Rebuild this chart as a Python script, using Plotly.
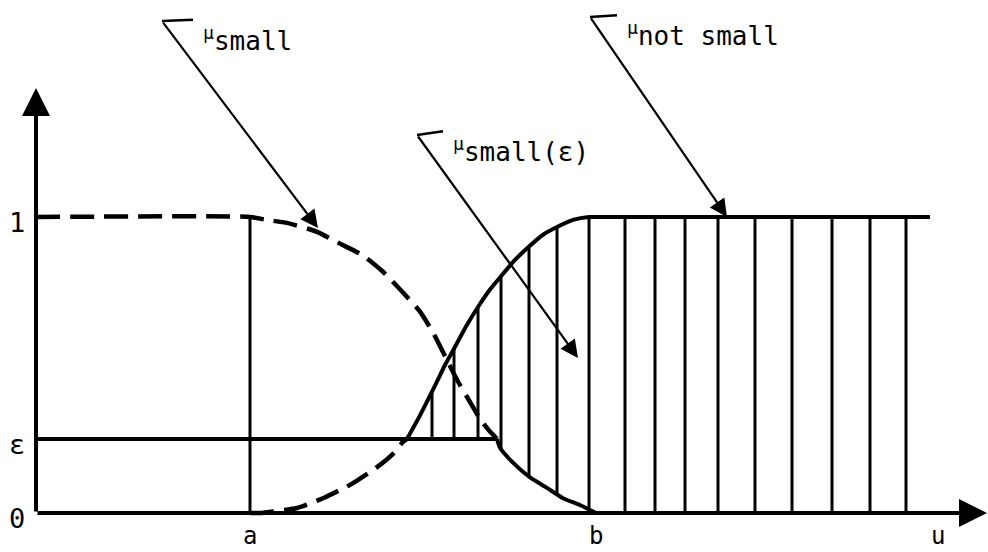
import numpy as np
import plotly.graph_objects as go

# Threshold level and characteristic points on the universe of discourse
EPS = 0.25
A = 2.14
B = 5.6

# Membership function "small" (decreasing)
u_small = [0.0, 2.14, 2.31, 2.51, 2.81, 3.04, 3.27, 3.47, 3.67, 3.84, 3.97, 4.09,
           4.21, 4.34, 4.44, 4.54, 4.61, 4.64, 4.77, 4.94, 5.11, 5.27, 5.44, 5.57, 5.6]
mu_small = [1.0, 1.0, 0.99, 0.98, 0.95, 0.91, 0.87, 0.815, 0.745, 0.68, 0.61, 0.53,
            0.45, 0.375, 0.318, 0.275, 0.25, 0.22, 0.17, 0.12, 0.085, 0.05, 0.027, 0.005, 0.0]

# Membership function "not small" (increasing)
u_not = [2.14, 2.24, 2.61, 2.87, 3.14, 3.41, 3.57, 3.67, 3.71, 3.84, 3.96, 4.04, 4.09,
         4.18, 4.30, 4.42, 4.54, 4.65, 4.79, 4.93, 5.07, 5.21, 5.37, 5.53, 5.61, 8.94]
mu_not = [0.0, 0.0, 0.017, 0.05, 0.095, 0.155, 0.20, 0.24, 0.25, 0.33, 0.41, 0.465, 0.50,
          0.555, 0.63, 0.696, 0.755, 0.80, 0.855, 0.90, 0.94, 0.966, 0.99, 1.0, 1.0, 1.0]

# Positions of the vertical hatch lines of the shaded set
hatch_u = [3.96, 4.18, 4.42, 4.65, 4.93, 5.21, 5.53, 5.89, 6.19, 6.49,
           6.82, 7.19, 7.56, 7.96, 8.34, 8.70]

# Axis labels
y_tick_vals = [1.0, EPS, 0.0]
y_tick_text = ["1", "ε", "0"]
x_tick_vals = [A, B, 9.02]
x_tick_text = ["a", "b", "u"]

FONT = "DejaVu Sans Mono"
INK = "black"

us = np.array(u_small)
ms = np.array(mu_small)
un = np.array(u_not)
mn = np.array(mu_not)

# where "small" falls to eps
u_cross_small = float(np.interp(EPS, ms[::-1], us[::-1]))

fig = go.Figure()

dash = "24px,10px"


def curve(x, y, width, dashed):
    return go.Scatter(x=x, y=y, mode="lines",
                      line=dict(color=INK, width=width, dash=dash if dashed else "solid",
                                shape="spline", smoothing=0.5))


# "small": dashed above eps, solid below
hi = ms >= EPS
fig.add_trace(curve(us[hi], ms[hi], 4.5, True))
lo = ms <= EPS
fig.add_trace(curve(us[lo], ms[lo], 4, False))
# "not small": dashed below eps, solid above
lo_n = mn <= EPS
fig.add_trace(curve(un[lo_n], mn[lo_n], 4.5, True))
hi_n = mn >= EPS
fig.add_trace(curve(un[hi_n], mn[hi_n], 4, False))

# eps level line and vertical line at a
fig.add_trace(go.Scatter(x=[0, u_cross_small], y=[EPS, EPS], mode="lines",
                         line=dict(color=INK, width=4)))
fig.add_trace(go.Scatter(x=[A, A], y=[0, 1.0], mode="lines",
                         line=dict(color=INK, width=3)))

# hatch lines between the lower boundary and "not small"
hx, hy = [], []
for u in hatch_u:
    top = float(np.interp(u, un, mn))
    bottom = min(EPS, float(np.interp(u, us, ms, right=0.0)))
    hx += [u, u, None]
    hy += [bottom, top, None]
fig.add_trace(go.Scatter(x=hx, y=hy, mode="lines",
                         line=dict(color=INK, width=3), connectgaps=False))

annotations = []

# coordinate axes with arrow heads
annotations.append(dict(x=0, y=1.436, ax=0, ay=0, xref="x", yref="y", axref="x", ayref="y",
                        text="", showarrow=True, arrowhead=2, arrowsize=1.4,
                        arrowwidth=4, arrowcolor=INK))
annotations.append(dict(x=9.51, y=0, ax=0, ay=0, xref="x", yref="y", axref="x", ayref="y",
                        text="", showarrow=True, arrowhead=2, arrowsize=1.4,
                        arrowwidth=4, arrowcolor=INK))

for v, t in zip(y_tick_vals, y_tick_text):
    annotations.append(dict(x=-0.19, y=v - 0.018, xref="x", yref="y", text=t, showarrow=False,
                            font=dict(family=FONT, size=27, color=INK)))
for u, t in zip(x_tick_vals, x_tick_text):
    annotations.append(dict(x=u, y=-0.078, xref="x", yref="y", text=t, showarrow=False,
                            font=dict(family=FONT, size=24, color=INK)))

# pointer labels: (hook start, hook end, arrow tip, text)
pointers = [
    ((1.26, 1.662), (1.57, 1.666), (2.82, 0.963), "<sup>μ</sup>small"),
    ((3.81, 1.277), (4.07, 1.290), (5.42, 0.524), "<sup>μ</sup>small(ε)"),
    ((5.54, 1.676), (5.81, 1.682), (6.91, 1.0), "<sup>μ</sup>not small"),
]
shapes = []
for (sx, sy), (hx_, hy_), (tx, ty), label in pointers:
    shapes.append(dict(type="line", xref="x", yref="y", x0=sx, y0=sy, x1=hx_, y1=hy_,
                       line=dict(color=INK, width=2.5)))
    annotations.append(dict(x=tx, y=ty, ax=sx, ay=sy, xref="x", yref="y", axref="x", ayref="y",
                            text="", showarrow=True, arrowhead=2, arrowsize=1.6,
                            arrowwidth=2.2, arrowcolor=INK))
    annotations.append(dict(x=hx_ + 0.08, y=hy_ - 0.065, xref="x", yref="y", text=label,
                            showarrow=False, xanchor="left", yanchor="middle",
                            font=dict(family=FONT, size=26, color=INK)))

fig.update_layout(
    width=988, height=552,
    margin=dict(l=0, r=0, t=0, b=0),
    paper_bgcolor="white", plot_bgcolor="white",
    showlegend=False,
    xaxis=dict(range=[-0.36, 9.52], visible=False, fixedrange=True),
    yaxis=dict(range=[-0.1318, 1.7331], visible=False, fixedrange=True),
    annotations=annotations,
    shapes=shapes,
)

fig.write_html("out.html")
